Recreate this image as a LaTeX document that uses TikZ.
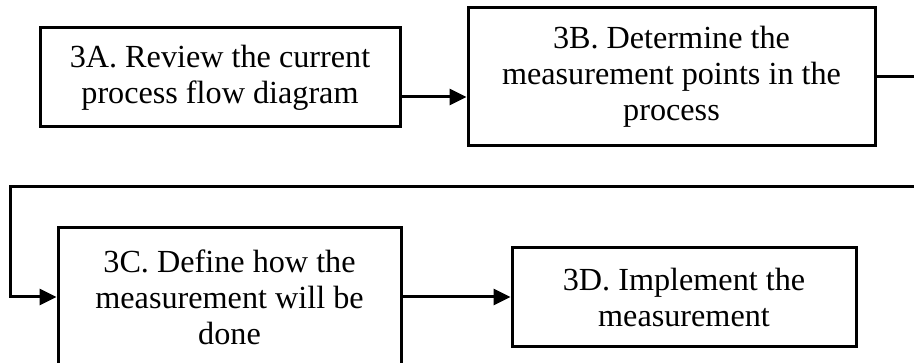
\documentclass[tikz,border=0pt]{standalone}
\usepackage{fontspec}
\setmainfont{Liberation Serif}
\usepackage{tikz}
\usetikzlibrary{arrows.meta}

\begin{document}
\begin{tikzpicture}[x=1pt,y=-1pt,
    stepbox/.style={draw,line width=3pt,inner sep=0pt,align=center,
      font=\fontsize{32.2}{36}\selectfont},
    flow/.style={line width=3pt},
    arr/.style={flow,-{Triangle[length=17pt,width=16pt]}}]
  \clip (0,0) rectangle (914,363);
  \node[stepbox,minimum width=360pt,minimum height=99pt]  (s3a) at (220,77.5)
    {3A. Review the current\\process flow diagram};
  \node[stepbox,minimum width=407pt,minimum height=138pt] (s3b) at (671.5,77)
    {3B. Determine the\\measurement points in the\\process};
  \node[stepbox,minimum width=343pt,minimum height=138pt] (s3c) at (229.5,297)
    {3C. Define how the\\measurement will be\\done};
  \node[stepbox,minimum width=344pt,minimum height=99pt]  (s3d) at (684,297)
    {3D. Implement the\\measurement};
  % connectors
  \coordinate (a1) at ([yshift=-19.5pt]s3a.east);
  \draw[arr] (a1) -- (a1 -| s3b.west);
  \coordinate (r1) at (914,77);
  \coordinate (r2) at (914,187);
  \coordinate (l1) at (10,187);
  \draw[flow] (s3b.east) -- (r1);
  \draw[arr] (r2) -- (l1) |- (s3c.west);
  \draw[arr] (s3c.east) -- (s3d.west);
\end{tikzpicture}
\end{document}
